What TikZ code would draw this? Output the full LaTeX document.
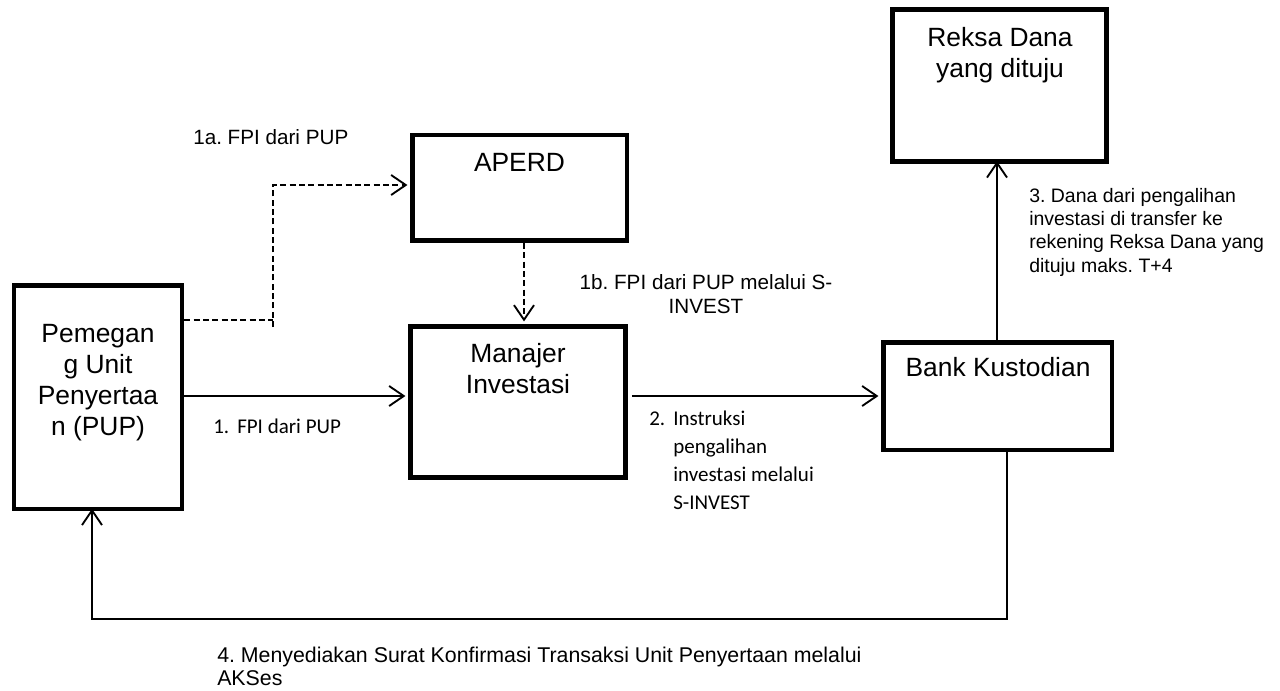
\documentclass[tikz,border=0pt]{standalone}
\usepackage{fontspec}
\setmainfont{Liberation Sans}
\newfontfamily\calibri{Carlito}
\usetikzlibrary{arrows.meta,fit}
\frenchspacing
\begin{document}
\begin{tikzpicture}[x=0.75pt,y=-0.75pt,
  box/.style={draw, line width=3.6pt, inner sep=0pt},
  boxtext/.style={font=\fontsize{19.8}{23.25}\selectfont, align=center, inner sep=0pt, anchor=base},
  lbl/.style={inner sep=0pt, anchor=base west, align=left},
  conn/.style={line width=1.4pt},
  arr/.style={conn, -{Straight Barb[length=11pt,width=15pt]}},
  dashline/.style={conn, dash pattern=on 4.5pt off 2.5pt}]
\useasboundingbox (0,0) rectangle (1280,690);
\fill[white] (0,0) rectangle (1280,690);

% boxes
\node[box, fit={(14,285.5)(182,509)}] (pup) {};
\node[box, fit={(412.5,135)(627,240.5)}] (aperd) {};
\node[box, fit={(410.5,326.5)(625.5,477.5)}] (mi) {};
\node[box, fit={(883.5,342.5)(1112,450)}] (bk) {};
\node[box, fit={(892.5,9.5)(1106.5,161.5)}] (rd) {};

% box texts (anchor=base is the baseline of the last line)
\node[boxtext] (tpup) at (98,435) {Pemegan\\g Unit\\Penyertaa\\n (PUP)};
\node[boxtext] (taperd) at (519.5,171) {APERD};
\node[boxtext] (tmi) at (518,393) {Manajer\\Investasi};
\node[boxtext] (tbk) at (998,376) {Bank Kustodian};
\node[boxtext] (trd) at (1000,77) {Reksa Dana\\yang dituju};

% coordinates
\coordinate (d0) at (273,327);
\coordinate (d1) at (273,320);
\coordinate (d2) at (273,185);
\coordinate (d3) at (524,0);
\coordinate (h1) at (0,396);
\coordinate (v1) at (997,0);
\coordinate (v2) at (1007,0);
\coordinate (h2) at (0,619);
\coordinate (v3) at (92,0);

% connectors
\draw[dashline] (pup.east |- d1) -- (d1);
\draw[dashline, arr, dash pattern=on 4.5pt off 2.5pt] (d0) -- (d2) -- ([xshift=-2pt]aperd.west |- d2);
\draw[dashline, arr, dash pattern=on 4.5pt off 2.5pt] (aperd.south -| d3) -- ([yshift=2pt]mi.north -| d3);
\draw[arr] (pup.east |- h1) -- ([xshift=-2pt]mi.west |- h1);
\draw[arr, shorten <=3pt] (mi.east |- h1) -- ([xshift=-2pt]bk.west |- h1);
\draw[arr] (bk.north -| v1) -- ([yshift=2pt]rd.south -| v1);
\draw[arr] (bk.south -| v2) -- (v2 |- h2) -- (v3 |- h2) -- ([yshift=2pt]pup.south -| v3);

% labels
\node[lbl, font=\fontsize{15.5}{18}\selectfont] (l1a) at (193,144) {1a. FPI dari PUP};
\node[lbl, font=\calibri\fontsize{15.75}{20.8}\selectfont] (l1) at (213,433) {\makebox[18pt][l]{1.}FPI dari PUP};
\node[inner sep=0pt, anchor=base, align=center, font=\fontsize{15.5}{18}\selectfont] (l1b) at (706,313) {1b. FPI dari PUP melalui S-\\INVEST};
\node[lbl, font=\calibri\fontsize{15.75}{20.8}\selectfont] (l2) at (649,509) {\makebox[18pt][l]{2.}Instruksi\\\hspace*{18pt}pengalihan\\\hspace*{18pt}investasi melalui\\\hspace*{18pt}S-INVEST};
\node[lbl, font=\fontsize{14.6}{17.5}\selectfont] (l3) at (1029,272) {3. Dana dari pengalihan\\investasi di transfer ke\\rekening Reksa Dana yang\\dituju maks. T+4};
\node[lbl, font=\fontsize{16}{17.25}\selectfont] (l4) at (217,685) {4. Menyediakan Surat Konfirmasi Transaksi Unit Penyertaan melalui\\AKSes};
\end{tikzpicture}
\end{document}
